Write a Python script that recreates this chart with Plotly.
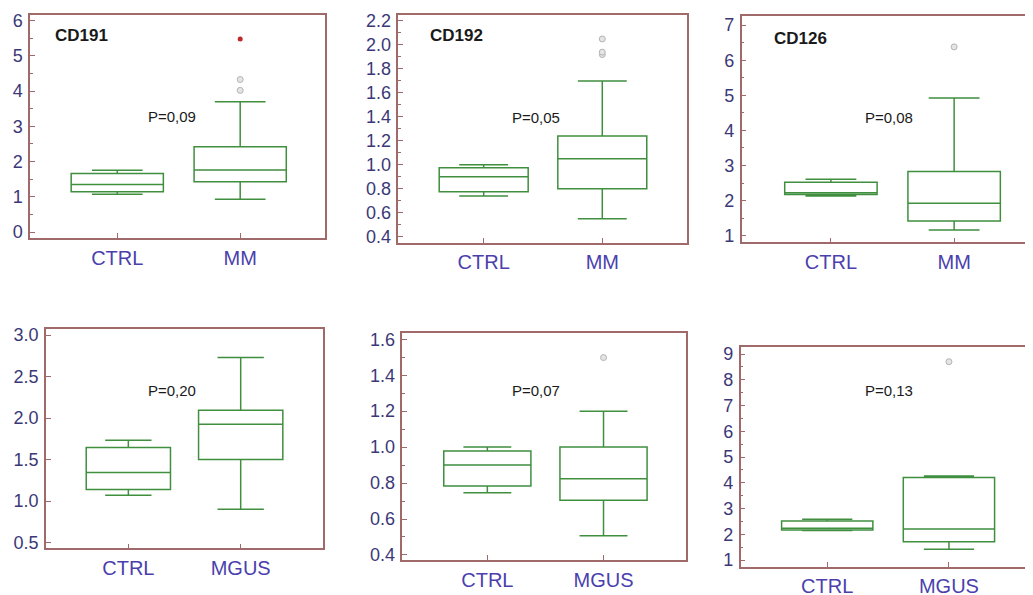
import plotly.graph_objects as go

# ---- data ----
panel_titles = ["CD191", "CD192", "CD126", "", "", ""]
p_values = ["P=0,09", "P=0,05", "P=0,08", "P=0,20", "P=0,07", "P=0,13"]
groups = [["CTRL", "MM"], ["CTRL", "MM"], ["CTRL", "MM"],
          ["CTRL", "MGUS"], ["CTRL", "MGUS"], ["CTRL", "MGUS"]]

# per panel: [CTRL, other] values
lower_fence = [[1.07, 0.93], [0.74, 0.55], [2.13, 1.16], [1.07, 0.90], [0.746, 0.507], [2.15, 1.42]]
q1_vals     = [[1.14, 1.43], [0.775, 0.80], [2.17, 1.42], [1.14, 1.50], [0.784, 0.704], [2.17, 1.71]]
medians     = [[1.35, 1.76], [0.90, 1.05], [2.22, 1.92], [1.344, 1.926], [0.90, 0.824], [2.23, 2.20]]
q3_vals     = [[1.66, 2.42], [0.975, 1.24], [2.52, 2.83], [1.645, 2.095], [0.978, 1.0], [2.51, 4.20]]
upper_fence = [[1.75, 3.70], [1.0, 1.70], [2.61, 4.92], [1.733, 2.73], [1.0, 1.20], [2.58, 4.26]]

# outliers (grey) in the second group and the extreme one (red) in panel 1
outliers = [[4.02, 4.33], [1.92, 1.94, 2.05], [6.38], [], [1.498], [8.70]]
extreme = [[5.48], [], [], [], [], []]

y_ranges = [[-0.17, 6.16], [0.35, 2.25], [0.81, 7.26], [0.43, 3.07], [0.372, 1.633], [0.74, 9.26]]
y_dticks = [1, 0.2, 1, 0.5, 0.2, 1]
y_minor = [0.5, 0.1, 0.5, None, 0.1, 0.5]
y_formats = ["d", ".1f", "d", ".1f", ".1f", "d"]
x_ranges = [[-0.71, 1.69], [-0.72, 1.71], [-0.724, 1.64], [-0.733, 1.73], [-0.732, 1.71], [-0.711, 1.68]]

# ---- layout positions (pixels of the 1033x595 page) ----
W, H = 1033, 595
OFF = 8  # the page body adds an 8px margin around the figure
frames_px = [  # left, right, top, bottom (page pixels)
    (30, 325, 15, 238),
    (398.3, 686.5, 15, 242.7),
    (741.7, 1033, 16, 242.3),
    (46, 322.7, 329.3, 548.3),
    (402.3, 686, 333.3, 560),
    (740.7, 1031.7, 347.3, 566.7),
]
title_pos = [(0.078, 0.91), (0.102, 0.912), (0.103, 0.901), None, None, None]
p_pos = [(0.481, 0.543), (0.4795, 0.548), (0.507, 0.552), (0.455, 0.72), (0.472, 0.747), (0.51, 0.801)]

GREEN = "#3f8f3f"
FRAME = "#a06a6a"
YTICK = "#3b3878"
XTICK = "#4b3fae"
FONT = "Liberation Sans, Arial, sans-serif"

fig = go.Figure()
layout = dict(
    width=W, height=H, margin=dict(l=0, r=0, t=0, b=0, autoexpand=False),
    paper_bgcolor="white", plot_bgcolor="white", showlegend=False,
    font=dict(family=FONT),
)
annotations = []

for i in range(6):
    n = i + 1
    xa = "x" if n == 1 else f"x{n}"
    ya = "y" if n == 1 else f"y{n}"
    L, R, T, B = [v - OFF for v in frames_px[i]]
    cats = groups[i]
    for j in range(2):
        fig.add_trace(go.Box(
            x=[cats[j]], q1=[q1_vals[i][j]], median=[medians[i][j]], q3=[q3_vals[i][j]],
            lowerfence=[lower_fence[i][j]], upperfence=[upper_fence[i][j]],
            boxpoints=False, width=0.75, whiskerwidth=0.55,
            line=dict(color=GREEN, width=1.5), fillcolor="rgba(255,255,255,0)",
            xaxis=xa, yaxis=ya, hoverinfo="skip",
        ))
    if outliers[i]:
        fig.add_trace(go.Scatter(
            x=[cats[1]] * len(outliers[i]), y=outliers[i], mode="markers",
            marker=dict(symbol="circle", size=6, color="#e4e4e4",
                        line=dict(color="#b4b4b4", width=1)),
            xaxis=xa, yaxis=ya, hoverinfo="skip",
        ))
    if extreme[i]:
        fig.add_trace(go.Scatter(
            x=[cats[1]] * len(extreme[i]), y=extreme[i], mode="markers",
            marker=dict(symbol="circle", size=5, color="#c0282c"),
            xaxis=xa, yaxis=ya, hoverinfo="skip",
        ))

    xkey = "xaxis" if n == 1 else f"xaxis{n}"
    ykey = "yaxis" if n == 1 else f"yaxis{n}"
    layout[xkey] = dict(
        domain=[L / W, min(R / W, 1.0)], anchor=ya, type="category",
        range=x_ranges[i], categoryorder="array", categoryarray=cats,
        showline=True, mirror=True, linecolor=FRAME, linewidth=1.5,
        ticks="inside", ticklen=5, tickcolor=FRAME, tickwidth=1,
        showgrid=False, zeroline=False, automargin=False,
        tickfont=dict(size=20, color=XTICK, family=FONT), ticklabelstandoff=1,
        fixedrange=True,
    )
    ydict = dict(
        domain=[1 - B / H, 1 - T / H], anchor=xa,
        range=y_ranges[i], dtick=y_dticks[i], tick0=0, tickformat=y_formats[i],
        showline=True, mirror=True, linecolor=FRAME, linewidth=1.5,
        ticks="inside", ticklen=5, tickcolor=FRAME, tickwidth=1,
        showgrid=False, zeroline=False, automargin=False,
        tickfont=dict(size=18, color=YTICK, family=FONT), ticklabelstandoff=2,
        fixedrange=True,
    )
    if y_minor[i]:
        ydict["minor"] = dict(dtick=y_minor[i], tick0=0, ticks="inside", ticklen=3,
                              tickcolor=FRAME, tickwidth=1, showgrid=False)
    layout[ykey] = ydict

    xd = f"{xa} domain"
    yd = f"{ya} domain"
    if title_pos[i] and panel_titles[i]:
        annotations.append(dict(
            text=f"<b>{panel_titles[i]}</b>", xref=xd, yref=yd,
            x=title_pos[i][0], y=title_pos[i][1], xanchor="left", yanchor="middle",
            showarrow=False, font=dict(size=17, color="#1a1a1a", family=FONT),
        ))
    annotations.append(dict(
        text=p_values[i], xref=xd, yref=yd,
        x=p_pos[i][0], y=p_pos[i][1], xanchor="center", yanchor="middle",
        showarrow=False, font=dict(size=15, color="#1a1a1a", family=FONT),
    ))

layout["annotations"] = annotations
fig.update_layout(**layout)
fig.write_html("out.html")
